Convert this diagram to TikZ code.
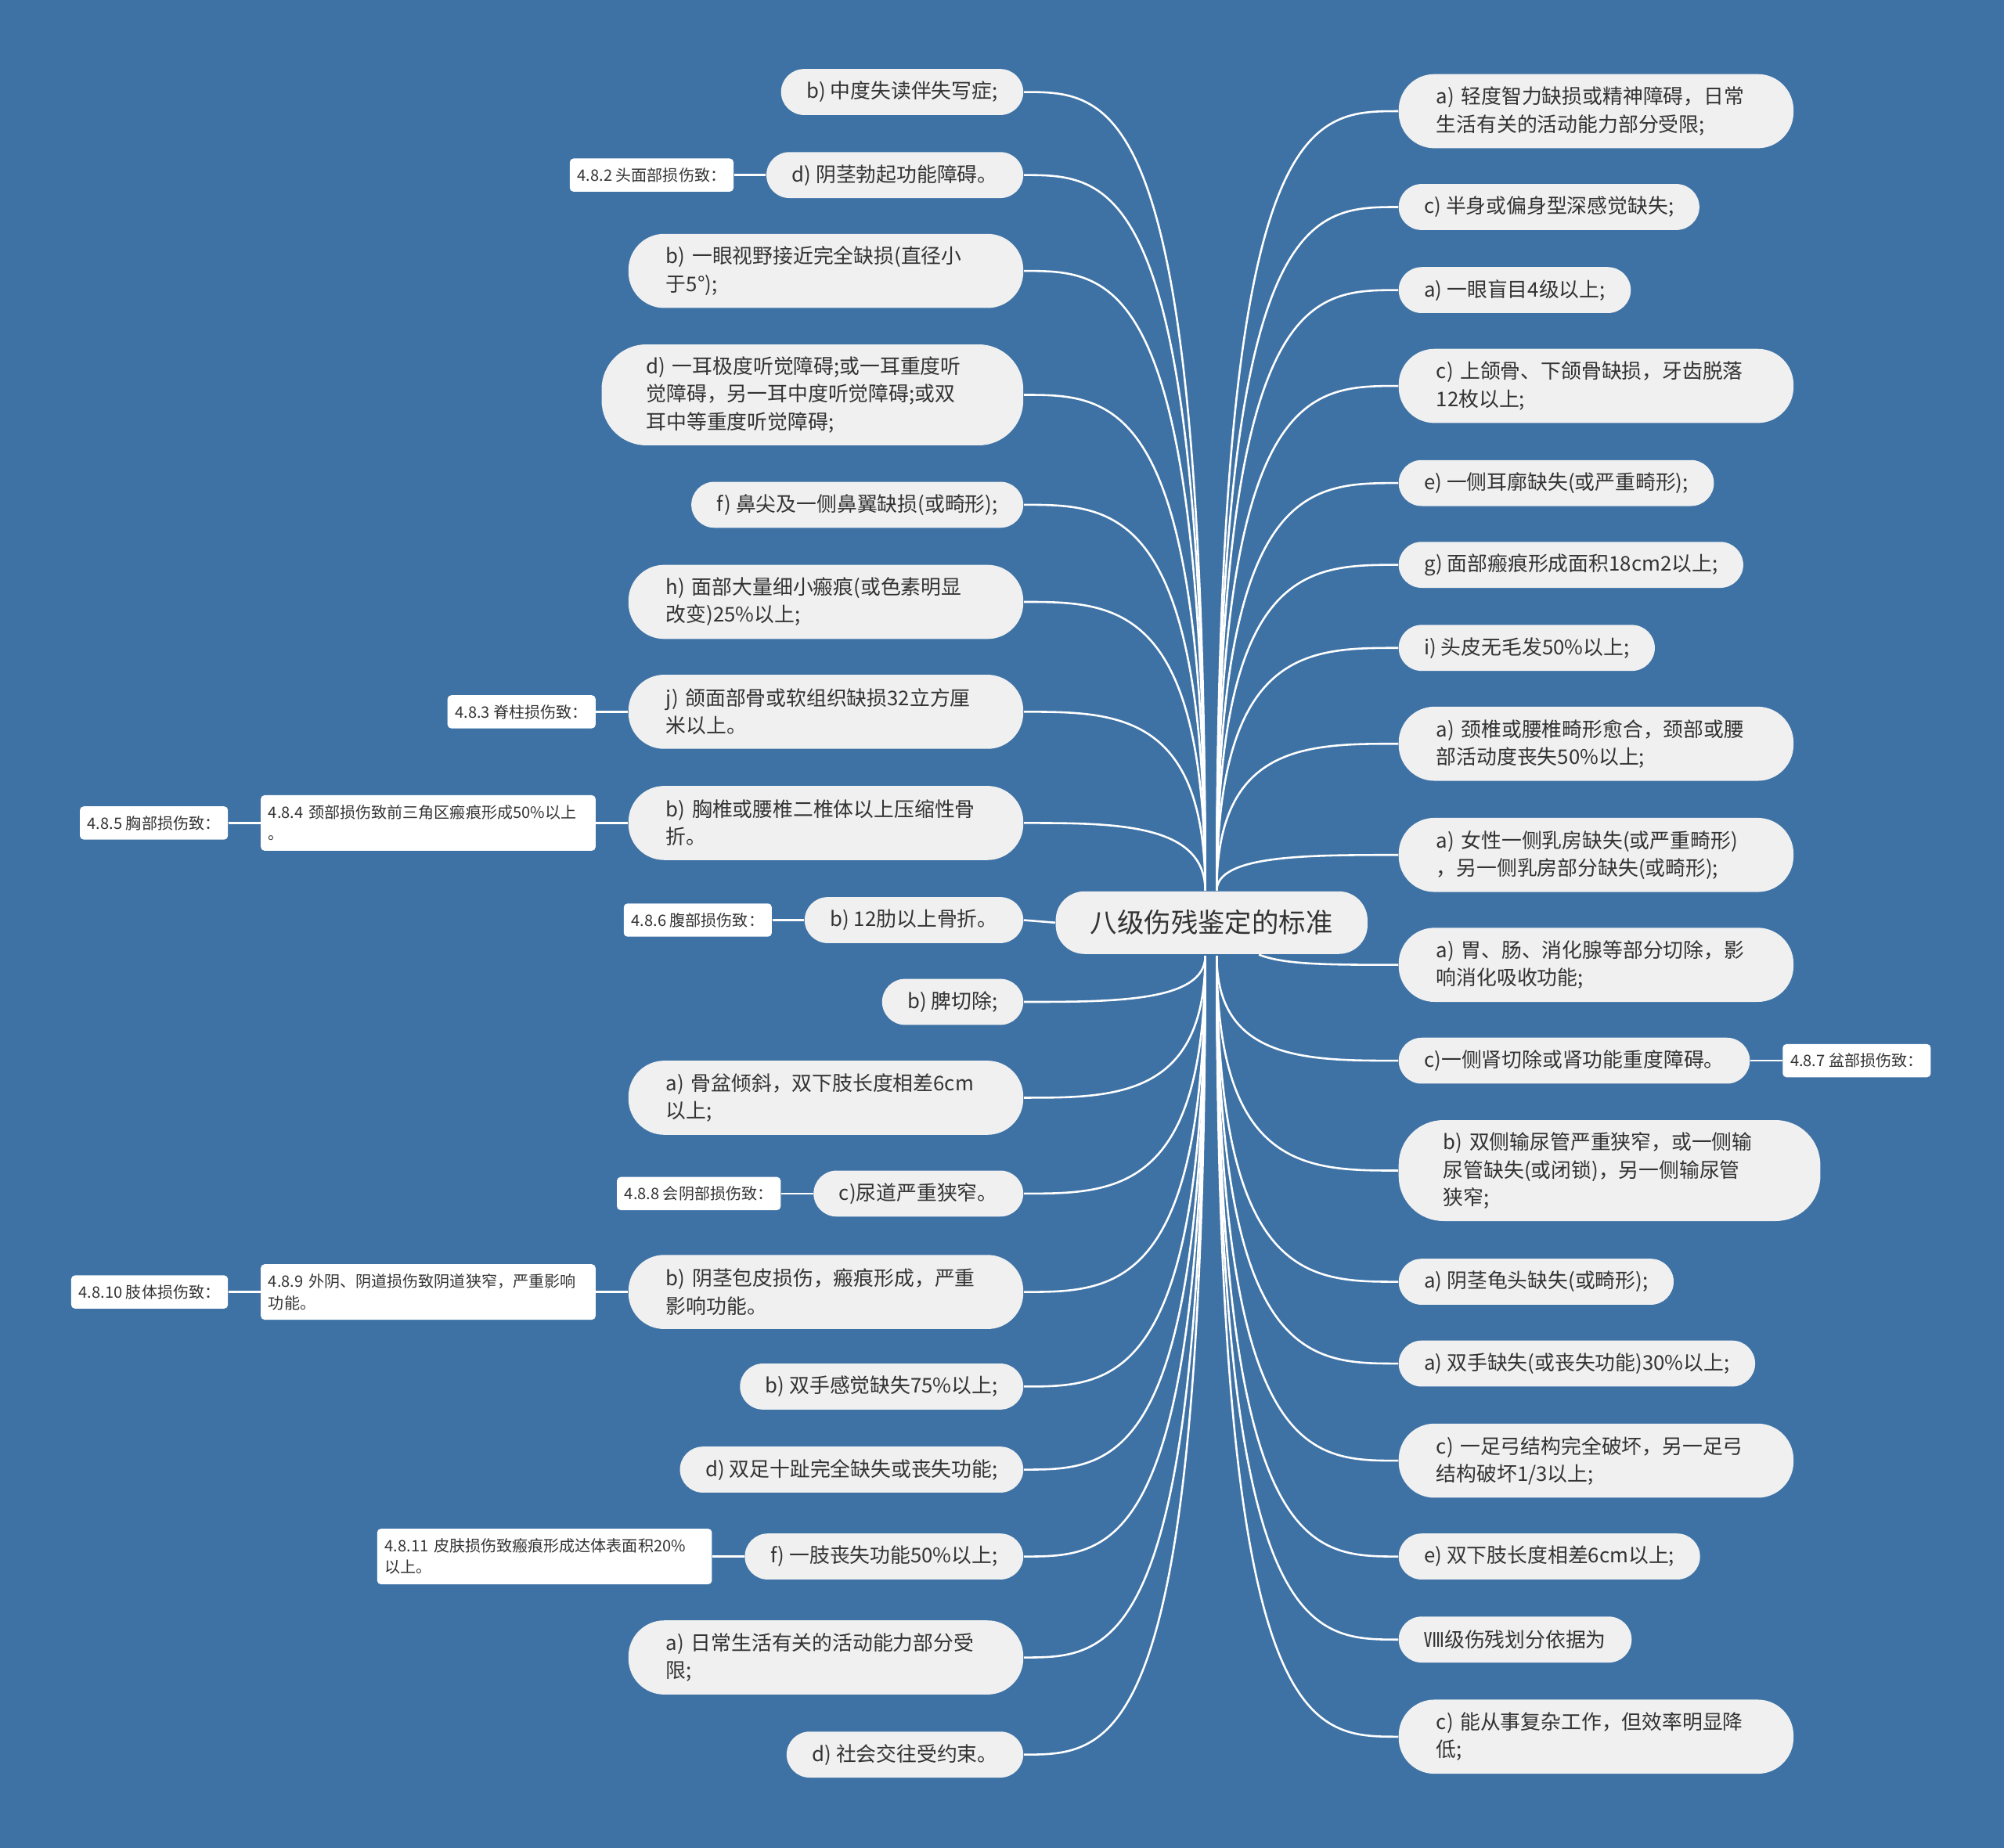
\documentclass[tikz,border=0pt]{standalone}
\usepackage{fontspec}
\setmainfont{Noto Sans CJK SC}
\usetikzlibrary{positioning,calc}
\definecolor{bgblue}{HTML}{3E72A5}
\definecolor{leaffill}{HTML}{F0F0F0}
\definecolor{inktext}{HTML}{333333}

\begin{document}
\begin{tikzpicture}[
    x=0.02cm, y=-0.02cm,
    root/.style={fill=leaffill, rounded corners=0.45cm, minimum width=4.88cm,
                 minimum height=0.98cm, text=inktext, font=\fontsize{12}{14}\selectfont},
    leaf/.style={fill=leaffill, rounded corners=0.36cm, minimum height=0.72cm,
                 inner xsep=0.4cm, inner ysep=0pt, text=inktext,
                 font=\fontsize{9}{12.3}\selectfont},
    leaftwo/.style={leaf, rounded corners=0.56cm, minimum height=1.16cm,
                    text width=5.0cm, inner xsep=0.59cm, align=left},
    leafthree/.style={leaf, rounded corners=0.7cm, minimum height=1.58cm,
                      text width=5.2cm, inner xsep=0.7cm, align=left},
    tag/.style={fill=white, rounded corners=0.06cm, minimum height=0.52cm,
                inner xsep=0.12cm, inner ysep=0pt, text=inktext,
                font=\fontsize{7}{9.5}\selectfont},
    tagtwo/.style={tag, minimum height=0.87cm, text width=5.0cm, align=left},
    link/.style={draw=white, line width=0.9pt}
]
    \path[fill=bgblue, use as bounding box] (0,0) rectangle (1568,1446);

    % 中心主题
    \node[root] (root) at (948,722) {八级伤残鉴定的标准};

    % 左侧分支
    \node[leaf, anchor=east] (l1) at (801,72) {b) 中度失读伴失写症;};
    \node[leaf, anchor=east] (l2) at (801,137) {d) 阴茎勃起功能障碍。};
    \node[leaftwo, anchor=east] (l3) at (801,212) {b) 一眼视野接近完全缺损(直径小\\于5°);};
    \node[leafthree, anchor=east] (l4) at (801,309) {d) 一耳极度听觉障碍;或一耳重度听\\觉障碍，另一耳中度听觉障碍;或双\\耳中等重度听觉障碍;};
    \node[leaf, anchor=east] (l5) at (801,395) {f) 鼻尖及一侧鼻翼缺损(或畸形);};
    \node[leaftwo, anchor=east] (l6) at (801,471) {h) 面部大量细小瘢痕(或色素明显\\改变)25\%以上;};
    \node[leaftwo, anchor=east] (l7) at (801,557) {j) 颌面部骨或软组织缺损32立方厘\\米以上。};
    \node[leaftwo, anchor=east] (l8) at (801,644) {b) 胸椎或腰椎二椎体以上压缩性骨\\折。};
    \node[leaf, anchor=east] (l9) at (801,720) {b) 12肋以上骨折。};
    \node[leaf, anchor=east] (l10) at (801,784) {b) 脾切除;};
    \node[leaftwo, anchor=east] (l11) at (801,859) {a) 骨盆倾斜，双下肢长度相差6cm\\以上;};
    \node[leaf, anchor=east] (l12) at (801,934) {c)尿道严重狭窄。};
    \node[leaftwo, anchor=east] (l13) at (801,1011) {b) 阴茎包皮损伤，瘢痕形成，严重\\影响功能。};
    \node[leaf, anchor=east] (l14) at (801,1085) {b) 双手感觉缺失75\%以上;};
    \node[leaf, anchor=east] (l15) at (801,1150) {d) 双足十趾完全缺失或丧失功能;};
    \node[leaf, anchor=east] (l16) at (801,1218) {f) 一肢丧失功能50\%以上;};
    \node[leaftwo, anchor=east] (l17) at (801,1297) {a) 日常生活有关的活动能力部分受\\限;};
    \node[leaf, anchor=east] (l18) at (801,1373) {d) 社会交往受约束。};

    % 右侧分支
    \node[leaftwo, anchor=west] (r1) at (1094,87) {a) 轻度智力缺损或精神障碍，日常\\生活有关的活动能力部分受限;};
    \node[leaf, anchor=west] (r2) at (1094,162) {c) 半身或偏身型深感觉缺失;};
    \node[leaf, anchor=west] (r3) at (1094,227) {a) 一眼盲目4级以上;};
    \node[leaftwo, anchor=west] (r4) at (1094,302) {c) 上颌骨、下颌骨缺损，牙齿脱落\\12枚以上;};
    \node[leaf, anchor=west] (r5) at (1094,378) {e) 一侧耳廓缺失(或严重畸形);};
    \node[leaf, anchor=west] (r6) at (1094,442) {g) 面部瘢痕形成面积18cm2以上;};
    \node[leaf, anchor=west] (r7) at (1094,507) {i) 头皮无毛发50\%以上;};
    \node[leaftwo, anchor=west] (r8) at (1094,582) {a) 颈椎或腰椎畸形愈合，颈部或腰\\部活动度丧失50\%以上;};
    \node[leaftwo, anchor=west] (r9) at (1094,669) {a) 女性一侧乳房缺失(或严重畸形)\\，另一侧乳房部分缺失(或畸形);};
    \node[leaftwo, anchor=west] (r10) at (1094,755) {a) 胃、肠、消化腺等部分切除，影\\响消化吸收功能;};
    \node[leaf, anchor=west] (r11) at (1094,830) {c)一侧肾切除或肾功能重度障碍。};
    \node[leafthree, anchor=west] (r12) at (1094,916) {b) 双侧输尿管严重狭窄，或一侧输\\尿管缺失(或闭锁)，另一侧输尿管\\狭窄;};
    \node[leaf, anchor=west] (r13) at (1094,1003) {a) 阴茎龟头缺失(或畸形);};
    \node[leaf, anchor=west] (r14) at (1094,1067) {a) 双手缺失(或丧失功能)30\%以上;};
    \node[leaftwo, anchor=west] (r15) at (1094,1143) {c) 一足弓结构完全破坏，另一足弓\\结构破坏1/3以上;};
    \node[leaf, anchor=west] (r16) at (1094,1218) {e) 双下肢长度相差6cm以上;};
    \node[leaf, anchor=west] (r17) at (1094,1283) {Ⅷ级伤残划分依据为};
    \node[leaftwo, anchor=west] (r18) at (1094,1359) {c) 能从事复杂工作，但效率明显降\\低;};

    % 条款标签
    \node[tag, left=0.5cm of l2] (t2) {4.8.2 头面部损伤致：};
    \node[tag, left=0.5cm of l7] (t3) {4.8.3 脊柱损伤致：};
    \node[tagtwo, left=0.5cm of l8] (t4) {4.8.4 颈部损伤致前三角区瘢痕形成50\%以上\\。};
    \node[tag, left=0.5cm of t4] (t5) {4.8.5 胸部损伤致：};
    \node[tag, left=0.5cm of l9] (t6) {4.8.6 腹部损伤致：};
    \node[tag, right=0.5cm of r11] (t7) {4.8.7 盆部损伤致：};
    \node[tag, left=0.5cm of l12] (t8) {4.8.8 会阴部损伤致：};
    \node[tagtwo, left=0.5cm of l13] (t9) {4.8.9 外阴、阴道损伤致阴道狭窄，严重影响\\功能。};
    \node[tag, left=0.5cm of t9] (t10) {4.8.10 肢体损伤致：};
    \node[tagtwo, left=0.5cm of l16] (t11) {4.8.11 皮肤损伤致瘢痕形成达体表面积20\%\\以上。};

    % 连线
    \coordinate (ltop) at (943,697);
    \coordinate (lbot) at (943,748);
    \coordinate (rtop) at (952,697);
    \coordinate (rbot) at (952,748);
    \coordinate (rmid) at (985,747);
    \foreach \n in {l1,l2,l3,l4,l5,l6,l7,l8}
        \draw[link] (ltop) .. controls (ltop |- \n.east) and ($(ltop |- \n.east)!.5!(\n.east)$) .. (\n.east);
    \foreach \n in {l10,l11,l12,l13,l14,l15,l16,l17,l18}
        \draw[link] (lbot) .. controls (lbot |- \n.east) and ($(lbot |- \n.east)!.5!(\n.east)$) .. (\n.east);
    \foreach \n in {r1,r2,r3,r4,r5,r6,r7,r8,r9}
        \draw[link] (rtop) .. controls (rtop |- \n.west) and ($(rtop |- \n.west)!.5!(\n.west)$) .. (\n.west);
    \foreach \n in {r11,r12,r13,r14,r15,r16,r17,r18}
        \draw[link] (rbot) .. controls (rbot |- \n.west) and ($(rbot |- \n.west)!.5!(\n.west)$) .. (\n.west);
    \draw[link] (root.west) -- (l9.east);
    \draw[link] (rmid) .. controls (1005,755) and (1040,755) .. (r10.west);

    % 标签连线
    \draw[link] (t2) -- (l2);
    \draw[link] (t3) -- (l7);
    \draw[link] (t4) -- (l8);
    \draw[link] (t5) -- (t4);
    \draw[link] (t6) -- (l9);
    \draw[link] (r11) -- (t7);
    \draw[link] (t8) -- (l12);
    \draw[link] (t9) -- (l13);
    \draw[link] (t10) -- (t9);
    \draw[link] (t11) -- (l16);
\end{tikzpicture}
\end{document}
